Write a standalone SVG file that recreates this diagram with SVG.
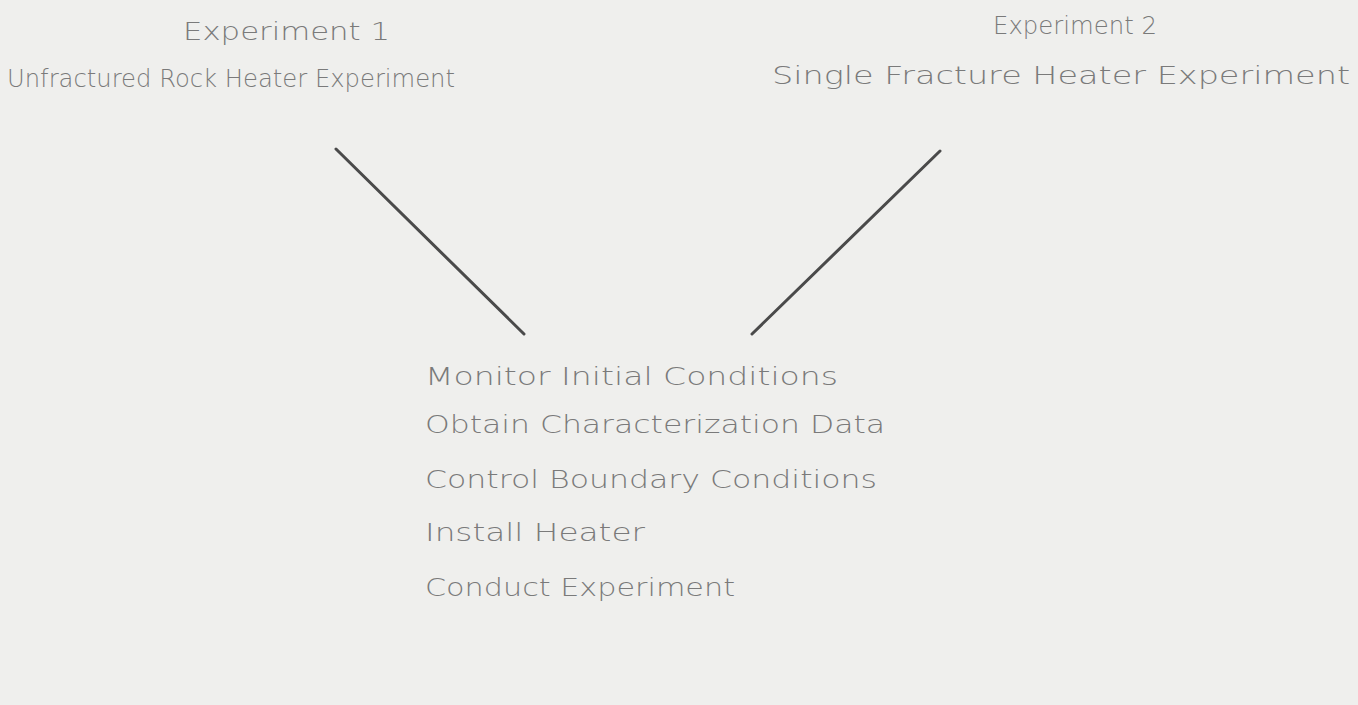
<svg xmlns="http://www.w3.org/2000/svg" width="1358" height="705" viewBox="0 0 1358 705">
<style>
text{font-family:"DejaVu Sans","Liberation Sans",sans-serif;font-size:24px;fill:#7a7a7a;font-weight:300}
.c{stroke:#4a4a4a;stroke-width:3;stroke-linecap:round;fill:none}
</style>
<rect width="1358" height="705" fill="#efefed"/>
<g id="exp1">
<text x="183" y="40" textLength="207" lengthAdjust="spacingAndGlyphs">Experiment 1</text>
<text x="7" y="87" textLength="448" lengthAdjust="spacingAndGlyphs">Unfractured Rock Heater Experiment</text>
</g>
<g id="exp2">
<text x="993" y="34" textLength="164" lengthAdjust="spacingAndGlyphs">Experiment 2</text>
<text x="772" y="84" textLength="578" lengthAdjust="spacingAndGlyphs">Single Fracture Heater Experiment</text>
</g>
<g id="steps">
<text x="425" y="385" textLength="413" lengthAdjust="spacingAndGlyphs">Monitor Initial Conditions</text>
<text x="425" y="433" textLength="460" lengthAdjust="spacingAndGlyphs">Obtain Characterization Data</text>
<text x="425" y="488" textLength="452" lengthAdjust="spacingAndGlyphs">Control Boundary Conditions</text>
<text x="425" y="541" textLength="220" lengthAdjust="spacingAndGlyphs">Install Heater</text>
<text x="425" y="596" textLength="310" lengthAdjust="spacingAndGlyphs">Conduct Experiment</text>
</g>
<g id="connectors">
<line class="c" x1="336" y1="149" x2="524" y2="334"/>
<line class="c" x1="940" y1="151" x2="752" y2="334"/>
</g>
</svg>
